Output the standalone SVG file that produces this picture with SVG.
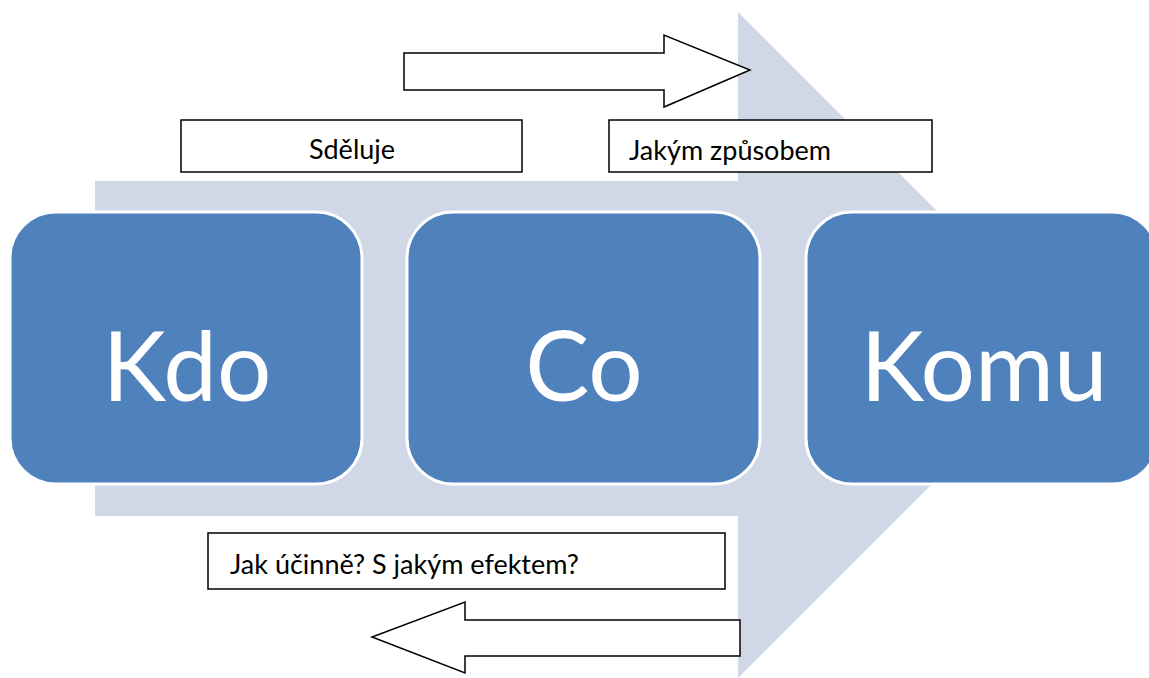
<svg xmlns="http://www.w3.org/2000/svg" width="1149" height="678" viewBox="0 0 1149 678">
<style>
.bg{fill:#D0D8E8}
.node rect{fill:#4F81BD;stroke:#FFFFFF;stroke-width:3}
.node text{font-family:Lato,"Open Sans",sans-serif;font-size:96px;fill:#FFFFFF;text-anchor:middle}
.lbl rect{fill:#FFFFFF;stroke:#000000;stroke-width:1.5}
.lbl text{font-family:Lato,"Open Sans",sans-serif;font-size:27px;fill:#000000}
.arr{fill:#FFFFFF;stroke:#000000;stroke-width:1.5;stroke-linejoin:miter}
</style>
<rect width="1149" height="678" fill="#FFFFFF"/>
<polygon class="bg" points="95,181 738,181 738,12 1071,345 738,678 738,516 95,516"/>
<g id="node-kdo" class="node">
<rect x="10" y="212" width="352" height="272" rx="46" ry="46"/>
<text x="187" y="401">Kdo</text>
</g>
<g id="node-co" class="node">
<rect x="407" y="212" width="353" height="272" rx="46" ry="46"/>
<text x="584" y="401">Co</text>
</g>
<g id="node-komu" class="node">
<rect x="806" y="212" width="352" height="272" rx="46" ry="46"/>
<text x="984" y="401">Komu</text>
</g>
<g id="label-sdeluje" class="lbl">
<rect x="181" y="120" width="341" height="52"/>
<text x="352" y="159" text-anchor="middle">Sděluje</text>
</g>
<g id="label-zpusob" class="lbl">
<rect x="609" y="120" width="323" height="52"/>
<text x="629" y="160">Jakým způsobem</text>
</g>
<g id="label-efekt" class="lbl">
<rect x="208" y="533" width="517" height="56"/>
<text x="230" y="574">Jak účinně? S jakým efektem?</text>
</g>
<g id="connectors">
<polygon class="arr" points="404,53 664,53 664,35 750,70 664,107 664,90 404,90"/>
<polygon class="arr" points="740,620 465,620 465,602 372,637 465,673 465,656 740,656"/>
</g>
</svg>
